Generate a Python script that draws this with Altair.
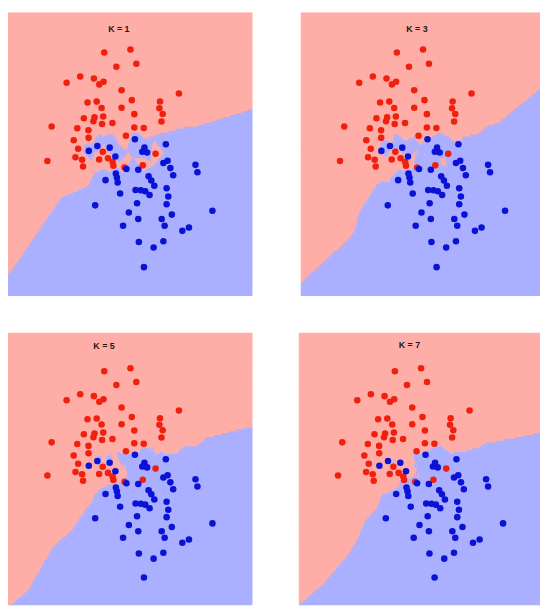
import altair as alt
import numpy as np
import pandas as pd

# ---- data (same sample in all four panels) ----
RED_X = [97.7, 124.3, 110.0, 130.3, 59.5, 73.3, 87.2, 92.7, 97.0, 115.3,
         173.5, 80.7, 90.0, 125.7, 115.3, 95.0, 154.3, 153.7, 157.0, 155.8,
         128.2, 77.0, 87.8, 96.7, 86.7, 95.5, 106.0, 44.3, 70.3, 81.7,
         81.8, 128.2, 137.8, 119.7, 66.7, 71.2, 68.5, 75.2, 76.2, 40.0,
         92.5, 96.2, 101.5, 106.2, 107.0, 118.3, 136.8, 149.8]
RED_Y = [247.3, 250.5, 232.8, 236.0, 216.7, 223.0, 221.0, 215.0, 217.7, 209.0,
         205.8, 196.5, 197.5, 199.0, 191.3, 191.0, 197.7, 190.8, 185.0, 177.3,
         184.8, 180.7, 181.5, 182.5, 177.5, 174.8, 175.8, 172.2, 170.5, 168.5,
         160.7, 171.3, 170.7, 162.8, 158.3, 149.7, 141.0, 138.5, 131.7, 137.2,
         138.8, 146.5, 140.0, 136.2, 132.5, 130.7, 132.8, 144.5]
BLUE_X = [82.0, 90.7, 103.2, 109.0, 128.8, 138.5, 136.3, 141.2, 160.2, 157.7,
          162.0, 164.8, 167.7, 190.3, 192.3, 132.2, 120.2, 109.5, 110.5, 111.3,
          99.0, 142.7, 145.5, 148.5, 129.5, 134.8, 139.3, 143.7, 113.8, 161.0,
          162.7, 161.0, 88.5, 131.0, 122.7, 132.2, 116.8, 166.3, 156.0, 159.0,
          207.5, 177.0, 183.7, 132.8, 147.8, 157.7, 138.0]
BLUE_Y = [147.5, 152.5, 150.8, 141.8, 159.2, 150.8, 146.7, 145.8, 154.3, 135.2,
          137.5, 130.0, 122.7, 133.3, 125.7, 128.3, 129.0, 124.5, 120.5, 115.5,
          117.8, 121.7, 117.5, 112.0, 107.7, 107.5, 106.5, 102.7, 104.3, 109.5,
          101.2, 93.3, 92.2, 94.3, 85.0, 78.3, 71.5, 82.8, 78.3, 71.5,
          86.7, 66.3, 69.7, 55.0, 49.5, 55.8, 29.5]

K_VALUES = [1, 3, 5, 7]
TITLES = ["K = 1", "K = 3", "K = 5", "K = 7"]
CLASSES = ["red", "blue"]
X_EXTENT = 248
Y_EXTENT = 288
Y_WEIGHT = 0.86   # the original feature axes are not on the same scale

BG_COLORS = ["#FFAEA7", "#AAB0FF"]
PT_COLORS = ["#F0200E", "#0A12D6"]

# ---- k-nearest-neighbour decision regions computed from the sample ----
train_x = np.array(RED_X + BLUE_X)
train_y = np.array(RED_Y + BLUE_Y)
train_c = np.array([0] * len(RED_X) + [1] * len(BLUE_X))

ROW = 2
OVERLAP = 1.6
gxs = np.arange(X_EXTENT) + 0.5
gys = np.arange(0, Y_EXTENT, ROW) + ROW / 2
GX, GY = np.meshgrid(gxs, gys)
D2 = (GX[..., None] - train_x) ** 2 + (Y_WEIGHT * (GY[..., None] - train_y)) ** 2
ORDER = np.argsort(D2, axis=-1)


def regions(k):
    cls = (train_c[ORDER[..., :k]].mean(axis=-1) > 0.5).astype(int)
    recs = []
    for i, yc in enumerate(gys):
        row = cls[i]
        start = 0
        for j in range(1, len(row) + 1):
            if j == len(row) or row[j] != row[start]:
                recs.append({"x": float(start), "x2": float(j) + OVERLAP,
                             "y": float(yc - ROW / 2), "y2": float(yc + ROW / 2 + OVERLAP),
                             "cls": CLASSES[row[start]]})
                start = j
    return pd.DataFrame(recs)


points = pd.DataFrame({
    "x": RED_X + BLUE_X,
    "y": RED_Y + BLUE_Y,
    "cls": ["red"] * len(RED_X) + ["blue"] * len(BLUE_X),
})


def panel(idx, width, height, title_x, title_y):
    k = K_VALUES[idx]
    xsc = alt.Scale(domain=[0, width], nice=False, zero=False)
    ysc = alt.Scale(domain=[0, Y_EXTENT], nice=False, zero=False)
    bgscale = alt.Scale(domain=CLASSES, range=BG_COLORS)
    bg = alt.Chart(regions(k)).mark_rect(clip=True, strokeWidth=0).encode(
        x=alt.X("x:Q", scale=xsc, axis=None),
        x2="x2:Q",
        y=alt.Y("y:Q", scale=ysc, axis=None),
        y2="y2:Q",
        fill=alt.Fill("cls:N", scale=bgscale, legend=None),
    )
    pts = alt.Chart(points).mark_circle(size=44, opacity=1, clip=True).encode(
        x=alt.X("x:Q", scale=xsc, axis=None),
        y=alt.Y("y:Q", scale=ysc, axis=None),
        color=alt.Color("cls:N", scale=alt.Scale(domain=CLASSES, range=PT_COLORS), legend=None),
    )
    txt = alt.Chart(pd.DataFrame({"t": [TITLES[idx]]})).mark_text(
        font="Liberation Sans", fontWeight="bold", fontSize=9, color="#1a1a1a"
    ).encode(x=alt.value(title_x), y=alt.value(title_y), text="t:N")
    return alt.layer(bg, pts, txt).resolve_scale(
        color="independent", fill="independent"
    ).properties(width=width, height=height)


p1 = panel(0, 248, 288, 112.5, 17)
p2 = panel(1, 243, 288, 118, 17)
p3 = panel(2, 248, 277, 97.5, 14)
p4 = panel(3, 245, 277, 112.5, 13)

chart = alt.vconcat(
    alt.hconcat(p1, p2, spacing=49),
    alt.hconcat(p3, p4, spacing=47),
    spacing=37,
).properties(padding=0, background="white").configure_view(stroke=None)

chart.save("out.html", embed_options={"renderer": "svg", "actions": False})
